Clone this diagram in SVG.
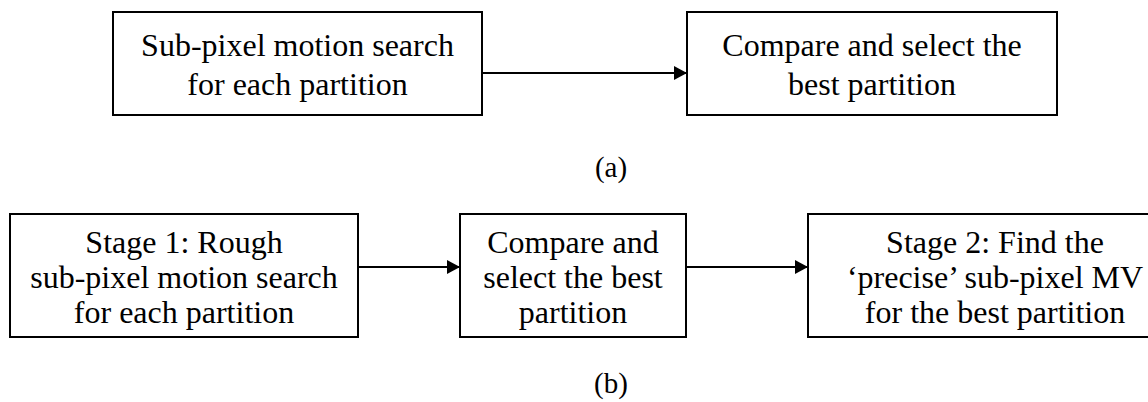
<svg xmlns="http://www.w3.org/2000/svg" width="1148" height="402" viewBox="0 0 1148 402">
<style>
.box{fill:#fff;stroke:#000;stroke-width:2}
.t{font-family:"Liberation Serif","Times New Roman",serif;font-size:32px;fill:#000;text-anchor:middle}
.lbl{font-family:"Liberation Serif","Times New Roman",serif;font-size:29px;fill:#000;text-anchor:middle}
.conn{stroke:#000;stroke-width:2;fill:none}
</style>
<defs>
<marker id="ah" markerUnits="userSpaceOnUse" markerWidth="14" markerHeight="14" refX="13" refY="7" orient="auto">
<path d="M0,0 L13,7 L0,14 Z" fill="#000"/>
</marker>
</defs>
<rect width="1148" height="402" fill="#fff"/>
<g id="connectors">
<line class="conn" x1="482" y1="73" x2="687" y2="73" marker-end="url(#ah)"/>
<line class="conn" x1="358" y1="267" x2="460" y2="267" marker-end="url(#ah)"/>
<line class="conn" x1="686" y1="267" x2="808" y2="267" marker-end="url(#ah)"/>
</g>
<g id="a1">
<rect class="box" x="113" y="12" width="369" height="103"/>
<text class="t" x="297.5" y="56">Sub-pixel motion search</text>
<text class="t" x="297.5" y="95">for each partition</text>
</g>
<g id="a2">
<rect class="box" x="687" y="12" width="370" height="103"/>
<text class="t" x="872" y="56">Compare and select the</text>
<text class="t" x="872" y="95">best partition</text>
</g>
<g id="label-a">
<text class="lbl" x="611" y="177">(a)</text>
</g>
<g id="b1">
<rect class="box" x="10" y="214" width="348" height="123"/>
<text class="t" x="184" y="253">Stage 1: Rough</text>
<text class="t" x="184" y="288">sub-pixel motion search</text>
<text class="t" x="184" y="323">for each partition</text>
</g>
<g id="b2">
<rect class="box" x="460" y="214" width="226" height="123"/>
<text class="t" x="573" y="253">Compare and</text>
<text class="t" x="573" y="288">select the best</text>
<text class="t" x="573" y="323">partition</text>
</g>
<g id="b3">
<rect class="box" x="808" y="214" width="374" height="123"/>
<text class="t" x="995" y="253">Stage 2: Find the</text>
<text class="t" x="995" y="288">‘precise’ sub-pixel MV</text>
<text class="t" x="995" y="323">for the best partition</text>
</g>
<g id="label-b">
<text class="lbl" x="611" y="393">(b)</text>
</g>
</svg>
